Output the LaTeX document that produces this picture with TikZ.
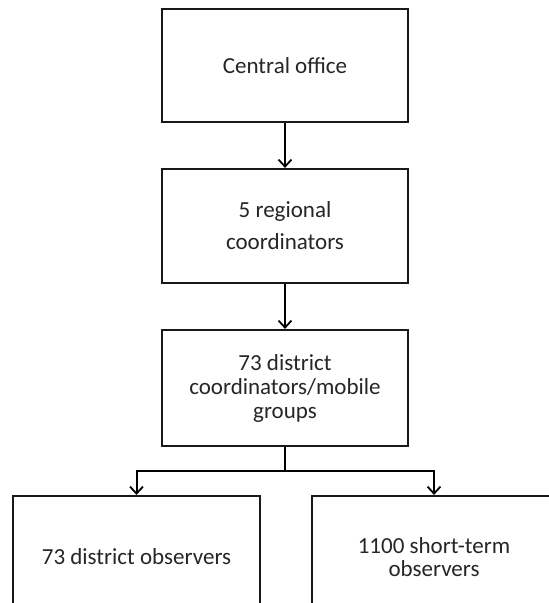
\documentclass[tikz,border=0pt]{standalone}
\usepackage{fontspec}
\setmainfont{Carlito}
\usetikzlibrary{arrows.meta}
\begin{document}
\begin{tikzpicture}[x=1pt,y=-1pt,
  box/.style={draw=black!90, line width=2.2pt, fill=white, minimum width=246pt, align=center, inner sep=0pt, text=black!85,
    font=\fontsize{23}{24}\selectfont},
  conn/.style={draw=black, line width=2pt, -{Straight Barb[length=7pt,width=13pt,line width=1.8pt]}},
  joint/.style={draw=black, line width=2pt}]
\useasboundingbox (0,0) rectangle (549,603);
\clip (0,0) rectangle (549,603);
\node[box, minimum height=113pt] (b1) at (285,65.5) {Central office};
\node[box, minimum height=114pt, font=\fontsize{23}{32}\selectfont] (b2) at (285,226) {5 regional\\coordinators};
\node[box, minimum height=116pt] (b3) at (285,388) {73 district\\coordinators/mobile\\groups};
\node[box, minimum height=122pt, minimum width=247pt] (b4) at (136.5,557) {73 district observers};
\node[box, minimum height=122pt, minimum width=244pt, font=\fontsize{23}{23.5}\selectfont] (b5) at (434,557) {1100 short-term\\observers};
\draw[conn] (b1) -- (b2);
\draw[conn] (b2) -- (b3);
\draw[joint] (b3.south) -- ++(0,23.5) coordinate (j);
\draw[conn] (j) -| (b4.north);
\draw[conn] (j) -| (b5.north);
\end{tikzpicture}
\end{document}
